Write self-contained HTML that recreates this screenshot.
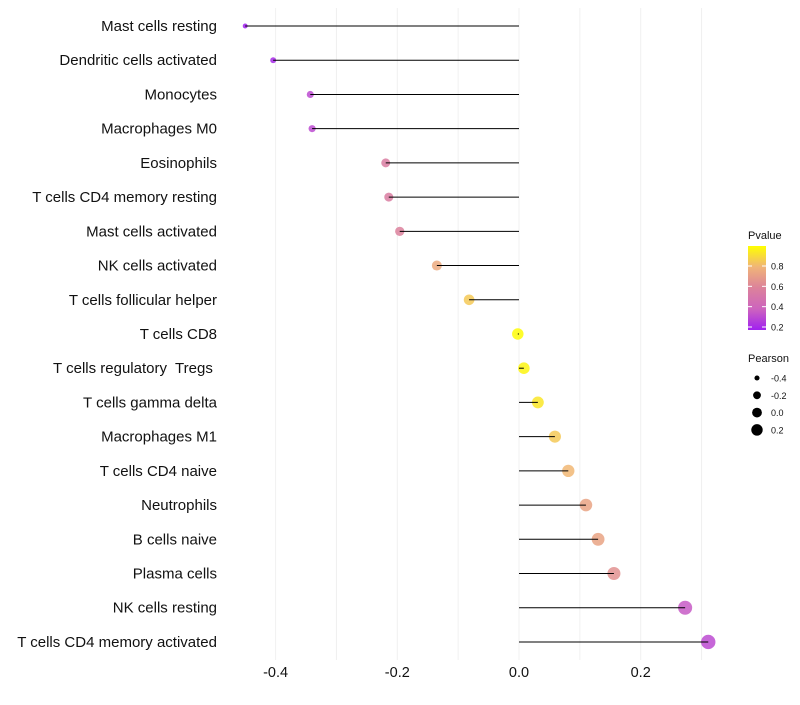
<!DOCTYPE html>
<html><head><meta charset="utf-8"><style>
body{margin:0;background:#fff;font-family:"Liberation Sans",sans-serif}
svg text{font-family:"Liberation Sans",sans-serif;white-space:pre}
</style></head><body>
<svg id="c" width="800" height="700"></svg>
<script>
const categories=["Mast cells resting","Dendritic cells activated","Monocytes","Macrophages M0","Eosinophils","T cells CD4 memory resting","Mast cells activated","NK cells activated","T cells follicular helper","T cells CD8","T cells regulatory  Tregs ","T cells gamma delta","Macrophages M1","T cells CD4 naive","Neutrophils","B cells naive","Plasma cells","NK cells resting","T cells CD4 memory activated"];
const pearson=[-0.45,-0.404,-0.343,-0.34,-0.219,-0.214,-0.196,-0.135,-0.082,-0.002,0.008,0.031,0.059,0.081,0.11,0.13,0.156,0.273,0.311];
const pvalue=[0.15,0.2,0.3,0.3,0.55,0.55,0.58,0.75,0.85,0.99,0.97,0.93,0.85,0.8,0.72,0.72,0.65,0.35,0.3];
const xTicks=[-0.4,-0.2,0.0,0.2];
const xTickLabels=["-0.4","-0.2","0.0","0.2"];
const pLegend=[0.2,0.4,0.6,0.8];
const rLegend=[-0.4,-0.2,0.0,0.2];
const NS="http://www.w3.org/2000/svg",svg=document.getElementById('c');
function el(t,a,p){const e=document.createElementNS(NS,t);for(const k in a)e.setAttribute(k,a[k]);(p||svg).appendChild(e);return e;}
const X=v=>519+v*608.5;
const Y=i=>26+i*34.22;
const R=v=>7.2*Math.sqrt(Math.max(0.02,(v+0.55)/0.86));
function lerp(a,b,t){return a.map((x,i)=>Math.round(x+(b[i]-x)*t));}
function col(p){const t=Math.max(0,Math.min(1,(p-0.17)/0.83));const s=[[160,32,240],[205,100,190],[220,130,155],[240,180,120],[255,255,0]];
 const k=Math.min(3,Math.floor(t*4));return `rgb(${lerp(s[k],s[k+1],t*4-k)})`;}
for(let v=-0.4;v<=0.31;v+=0.1){const g=el('line',{x1:X(v),x2:X(v),y1:8,y2:660,stroke:'#f0f0f0','stroke-width':1});
}
xTicks.forEach((v,i)=>{const t=el('text',{x:X(v),y:677,'text-anchor':'middle','font-size':14.5,fill:'#111'});t.textContent=xTickLabels[i];
});
categories.forEach((c,i)=>{
 const y=Y(i);
 const t=el('text',{x:217,y:y+5,'text-anchor':'end','font-size':15,fill:'#111'});t.textContent=c;
 
 const p=el('circle',{cx:X(pearson[i]),cy:y,r:R(pearson[i]),fill:col(pvalue[i]),'fill-opacity':0.85});
 
 const l=el('line',{x1:X(0),x2:X(pearson[i]),y1:y,y2:y,stroke:'#000','stroke-width':1});
 
});
let t=el('text',{x:748,y:239,'font-size':11,fill:'#111'});t.textContent='Pvalue';

const defs=el('defs',{});const gr=el('linearGradient',{id:'g',x1:0,y1:1,x2:0,y2:0},defs);
[0,0.25,0.5,0.75,1].forEach(o=>el('stop',{offset:o,'stop-color':col(0.17+o*0.83)},gr));
const bar=el('rect',{x:748,y:246,width:18,height:84,fill:'url(#g)'});

const PY=p=>327-(p-0.2)/0.6*61;
pLegend.forEach(p=>{const tt=el('text',{x:771,y:PY(p)+3.5,'font-size':9,fill:'#111'});tt.textContent=p.toFixed(1);

el('line',{x1:748,x2:752,y1:PY(p),y2:PY(p),stroke:'#fff'});el('line',{x1:762,x2:766,y1:PY(p),y2:PY(p),stroke:'#fff'});});
t=el('text',{x:748,y:362,'font-size':11,fill:'#111'});t.textContent='Pearson';

rLegend.forEach((v,i)=>{const y=378+i*17.3;
 const c=el('circle',{cx:757,cy:y,r:R(v)*0.85,fill:'#000'});
 const tt=el('text',{x:771,y:y+3.5,'font-size':9,fill:'#111'});tt.textContent=v.toFixed(1);
 });
</script>
</body></html>
